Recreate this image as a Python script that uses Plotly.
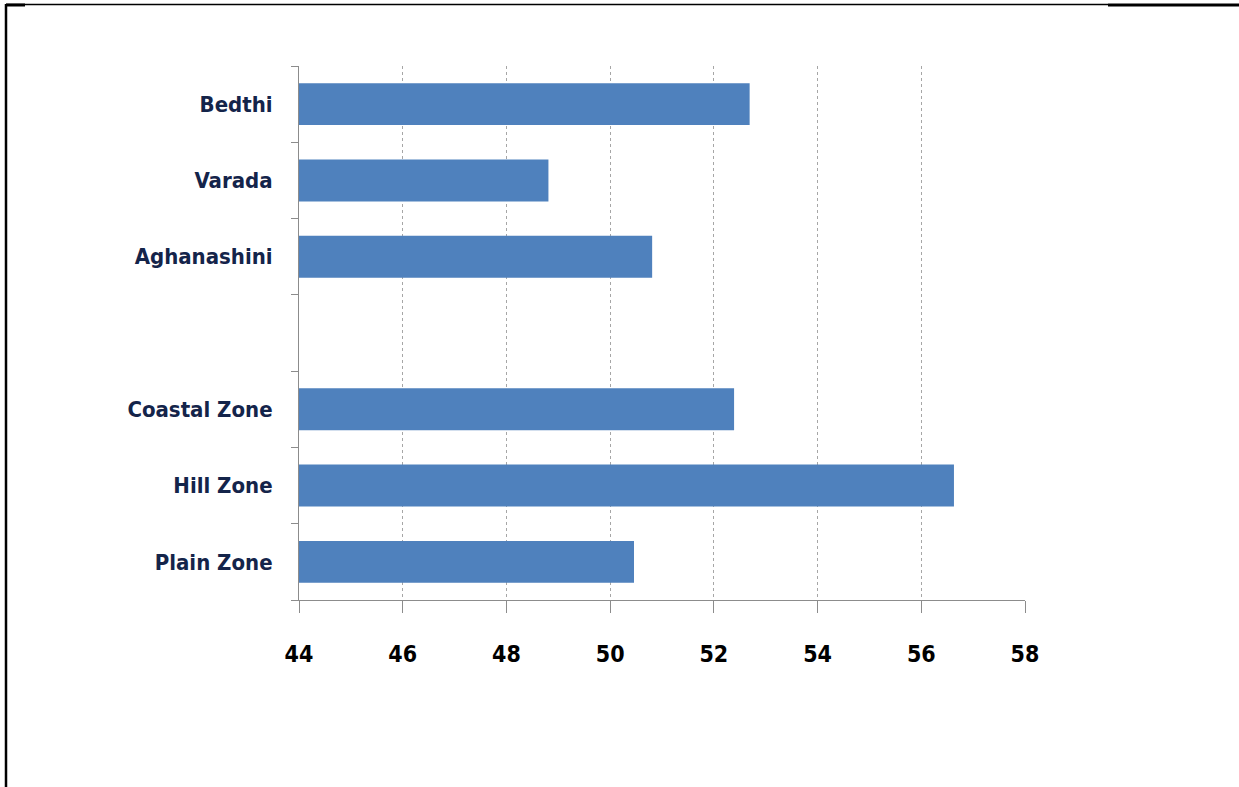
import plotly.graph_objects as go

categories = ["Plain Zone", "Hill Zone", "Coastal Zone", " ", "Aghanashini", "Varada", "Bedthi"]
values = [50.46, 56.63, 52.39, None, 50.81, 48.81, 52.69]
x_ticks = [44, 46, 48, 50, 52, 54, 56, 58]

W, H = 1239, 787
L, R, T, B = 299, 1025, 66, 600
pw, ph = R - L, B - T


def px(x):
    return (x - L) / pw


def py(y):
    return (B - y) / ph


fig = go.Figure(go.Bar(
    y=categories, x=values, orientation="h",
    marker=dict(color="#4F81BD", line=dict(width=0)),
    width=0.55, hoverinfo="x+y",
))

font_family = "Liberation Sans Narrow, DejaVu Sans Condensed, Arial Narrow, sans-serif"

fig.update_layout(
    width=W, height=H,
    margin=dict(l=L, r=W - R, t=T, b=H - B, pad=0),
    paper_bgcolor="white", plot_bgcolor="white",
    showlegend=False,
    xaxis=dict(
        range=[44, 58], tickvals=x_ticks, ticktext=[str(v) for v in x_ticks],
        showgrid=True, gridcolor="#a6a6a6", griddash="dot", gridwidth=1,
        showline=True, linecolor="#8c8c8c", linewidth=1,
        ticks="outside", ticklen=12, tickcolor="#8c8c8c",
        tickfont=dict(family=font_family, size=23, color="#000000", weight="bold"),
        ticklabelstandoff=21, zeroline=False, fixedrange=True,
    ),
    yaxis=dict(
        type="category", categoryorder="array", categoryarray=categories,
        range=[-0.5, 6.5],
        showline=True, linecolor="#8c8c8c", linewidth=1,
        ticks="outside", ticklen=7, tickcolor="#8c8c8c", tickson="boundaries",
        tickfont=dict(family=font_family, size=22, color="#14244a", weight="bold"),
        ticklabelstandoff=21, showgrid=False, fixedrange=True,
    ),
    shapes=[
        dict(type="line", xref="paper", yref="paper", x0=px(6), x1=px(6), y0=py(4), y1=py(787),
             line=dict(color="black", width=2.5)),
        dict(type="line", xref="paper", yref="paper", x0=px(6), x1=px(1108), y0=py(4.5), y1=py(4.5),
             line=dict(color="black", width=1.5)),
        dict(type="line", xref="paper", yref="paper", x0=px(1108), x1=px(1239), y0=py(5), y1=py(5),
             line=dict(color="black", width=3)),
        dict(type="line", xref="paper", yref="paper", x0=px(6), x1=px(25), y0=py(5), y1=py(5),
             line=dict(color="black", width=3)),
    ],
)

fig.write_html("out.html", config={"displayModeBar": False},
               post_script="document.body.style.margin='0px';")
